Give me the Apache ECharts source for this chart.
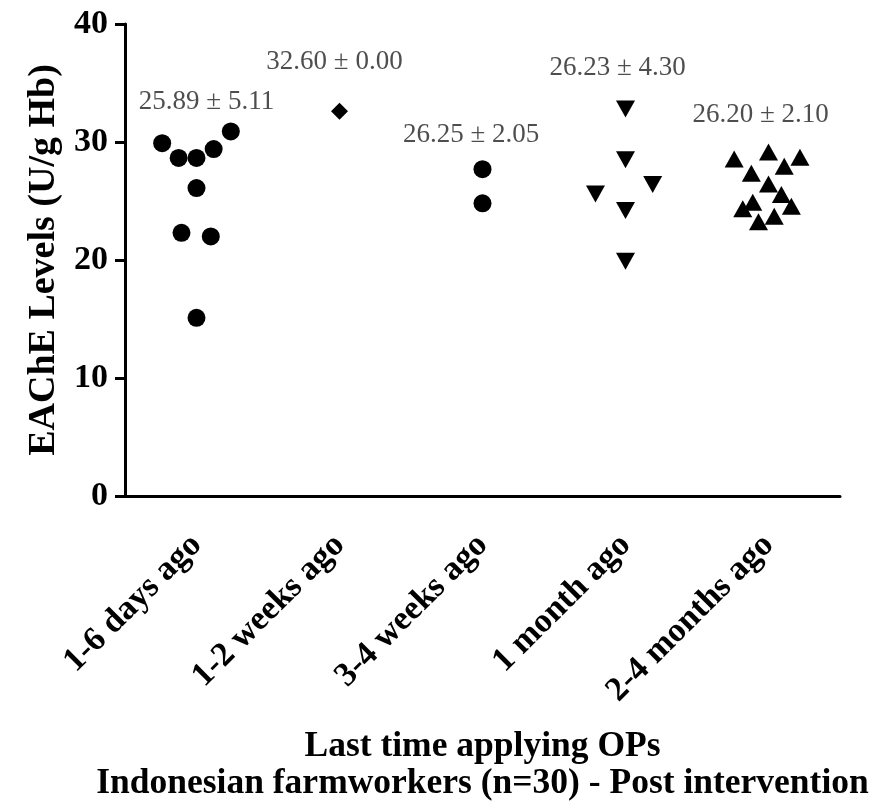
<!DOCTYPE html>
<html>
<head>
<meta charset="utf-8">
<script src="https://cdn.jsdelivr.net/npm/echarts@6/dist/echarts.min.js"></script>
<style>
  html, body { margin: 0; padding: 0; background: #fff; }
  #chart { width: 895px; height: 807px; }
</style>
</head>
<body>
<div id="chart"></div>
<script>
// Groups by time since last OP application
const categories = ['1-6 days ago', '1-2 weeks ago', '3-4 weeks ago', '1 month ago', '2-4 months ago'];

// EAChE levels (U/g Hb) per worker, with horizontal spread within each column (category units)
const days1to6 = [29.9, 28.65, 28.65, 29.4, 30.9, 26.1, 22.3, 22.0, 15.1];
const days1to6Spread = [-0.24, -0.125, 0, 0.12, 0.24, 0, -0.105, 0.1, 0];
const weeks1to2 = [32.6];
const weeks1to2Spread = [0];
const weeks3to4 = [27.7, 24.8];
const weeks3to4Spread = [0, 0];
const month1 = [32.8, 28.5, 26.4, 25.6, 24.2, 19.9];
const month1Spread = [0, 0, 0.19, -0.21, 0, 0];
const months2to4 = [28.55, 29.15, 28.7, 27.95, 27.35, 26.45, 25.55, 24.9, 24.35, 24.55, 23.7, 23.25];
const months2to4Spread = [-0.24, 0, 0.22, 0.11, -0.12, 0, 0.09, -0.11, -0.18, 0.16, 0.04, -0.07];

// Group summaries (mean ± SD)
const means = [25.89, 32.60, 26.25, 26.23, 26.20];
const sds = [5.11, 0.00, 2.05, 4.30, 2.10];

// Where each summary text sits: [offset from column, EAChE level]
const summaryAt = [[0.07, 33.4], [-0.035, 36.8], [-0.08, 30.6], [-0.055, 36.3], [-0.055, 32.3]];

const yMin = 0, yMax = 40, yStep = 10;

const serif = "'Liberation Serif', 'Times New Roman', serif";

function points(values, spread, col) {
  return values.map((v, i) => [col + spread[i], v]);
}

function group(name, values, spread, col, symbol, size, rotate) {
  return {
    name: name,
    type: 'scatter',
    xAxisIndex: 1,
    symbol: symbol,
    symbolSize: size,
    symbolRotate: rotate || 0,
    itemStyle: { color: '#000', opacity: 1 },
    emphasis: { disabled: true },
    data: points(values, spread, col),
    z: 3
  };
}

const chart = echarts.init(document.getElementById('chart'), null, { renderer: 'canvas' });

chart.setOption({
  animation: false,
  backgroundColor: '#fff',
  grid: { left: 125, right: 55, top: 24, bottom: 310, containLabel: false },
  xAxis: [
    {
      type: 'category',
      data: categories,
      boundaryGap: true,
      axisLine: { lineStyle: { color: '#000', width: 3 } },
      axisTick: { alignWithLabel: true, length: 10, lineStyle: { color: '#000', width: 3 } },
      axisLabel: {
        rotate: 45, margin: 44, color: '#000',
        fontFamily: serif, fontWeight: 'bold', fontSize: 34
      },
      splitLine: { show: false },
      name: 'Last time applying OPs\nIndonesian farmworkers (n=30) - Post intervention',
      nameLocation: 'middle',
      nameGap: 232,
      nameTextStyle: {
        color: '#000', fontFamily: serif, fontWeight: 'bold',
        fontSize: 35.5, lineHeight: 37
      }
    },
    {
      type: 'value',
      min: -0.5, max: 4.5,
      show: false
    }
  ],
  yAxis: {
    type: 'value',
    min: yMin, max: yMax, interval: yStep,
    axisLine: { show: true, onZero: false, lineStyle: { color: '#000', width: 3 } },
    axisTick: { show: true, length: 10, lineStyle: { color: '#000', width: 3 } },
    axisLabel: {
      margin: 17, color: '#000',
      fontFamily: serif, fontWeight: 'bold', fontSize: 34
    },
    splitLine: { show: false },
    name: 'EAChE Levels (U/g Hb)',
    nameLocation: 'middle',
    nameGap: 56,
    nameTextStyle: { color: '#000', fontFamily: serif, fontWeight: 'bold', fontSize: 38 }
  },
  series: [
    group('1-6 days ago', days1to6, days1to6Spread, 0, 'circle', 18),
    group('1-2 weeks ago', weeks1to2, weeks1to2Spread, 1, 'diamond', [17, 17]),
    group('3-4 weeks ago', weeks3to4, weeks3to4Spread, 2, 'circle', 18),
    group('1 month ago', month1, month1Spread, 3, 'triangle', [19, 17], 180),
    group('2-4 months ago', months2to4, months2to4Spread, 4, 'triangle', [19, 17]),
    {
      name: 'summary',
      type: 'scatter',
      xAxisIndex: 1,
      symbolSize: 0,
      silent: true,
      data: means.map((m, i) => ({
        value: [i + summaryAt[i][0], summaryAt[i][1]],
        label: {
          show: true,
          position: 'inside',
          formatter: m.toFixed(2) + ' \u00b1 ' + sds[i].toFixed(2),
          color: '#222',
          fontFamily: serif,
          fontSize: 27
        }
      }))
    }
  ]
});
</script>
</body>
</html>
